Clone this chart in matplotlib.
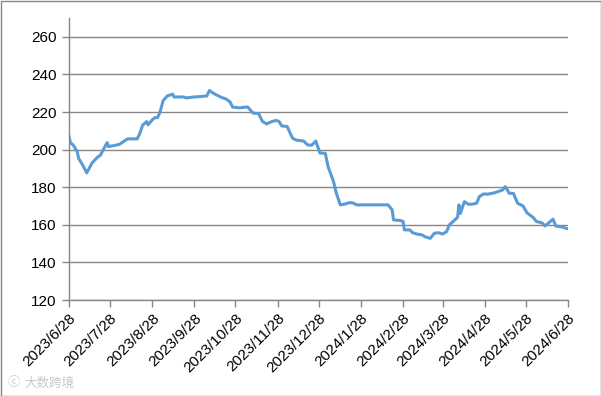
import numpy as np
import pandas as pd
import matplotlib
matplotlib.use('Agg')
import matplotlib.pyplot as plt
import matplotlib.dates as mdates
from matplotlib.patches import Rectangle

plt.rcParams['font.family'] = ['Liberation Sans', 'Noto Sans CJK SC', 'DejaVu Sans']

# days since 2023-06-28 and price
start = pd.Timestamp('2023-06-28')
days = [0, 1, 3, 6, 7, 10, 13, 17, 21, 23, 25, 28, 29, 34, 37, 41, 43, 50, 52, 54,
        57, 58, 61, 63, 65, 67, 69, 72, 76, 77, 84, 86, 92, 96, 101, 103, 107, 112, 115, 118,
        120, 125, 131, 135, 139, 142, 145, 149, 152, 154, 156, 160, 164, 167, 172, 175, 178, 181, 184, 188,
        190, 193, 194, 196, 199, 202, 206, 208, 211, 234, 237, 238, 243, 245, 246, 250, 252, 255, 259, 261,
        265, 268, 271, 274, 277, 279, 283, 285, 286, 287, 288, 290, 293, 296, 299, 301, 304, 307, 312, 318,
        320, 323, 326, 329, 333, 336, 340, 343, 347, 349, 351, 355, 357, 362, 365, 366]
values = [207, 203.7, 202.5, 199, 195.4, 191.8, 187.6, 193, 196, 197, 199.8, 203.7, 201.6, 202.3, 202.8, 204.8, 205.7, 205.7, 208.7, 213,
          214.9, 213.2, 215.8, 217, 217, 220.5, 226, 228.5, 229.5, 228, 228, 227.5, 228, 228.2, 228.5, 231.4, 229.5, 227.7, 227, 225.5,
          222.6, 222.2, 222.7, 219.4, 219.2, 214.9, 213.7, 215, 215.5, 215, 212.6, 212.3, 206, 205, 204.6, 202.5, 202.3, 204.6, 198.2, 198,
          191, 185, 183, 177, 170.6, 171, 171.8, 171.7, 170.6, 170.6, 168, 162.6, 162.3, 161.8, 157.3, 157.3, 155.8, 155.1, 154.6, 153.7,
          152.8, 155.5, 155.8, 155.1, 156.4, 160, 162.6, 164, 170.6, 166, 168, 172.3, 170.9, 171, 171.5, 175, 176.4, 176.3, 177, 178.5,
          180.3, 176.7, 176.7, 171.5, 170, 166.3, 164.2, 161.7, 161, 159.4, 160.5, 163, 159.4, 158.8, 158, 158]
tick_dates = pd.date_range('2023-06-28', '2024-06-28', freq=pd.DateOffset(months=1))
tick_labels = ['%d/%d/%d' % (d.year, d.month, d.day) for d in tick_dates]

dates = start + pd.to_timedelta(days, unit='D')

fig = plt.figure(figsize=(6.01, 3.96), dpi=100)
ax = fig.add_axes([69 / 601, 1 - 300 / 396, 499 / 601, 282 / 396])

ax.plot(dates, values, color='#5B9BD5', lw=2.2, solid_joinstyle='round')

ax.set_xlim(start, tick_dates[-1])
ax.set_ylim(120, 270)
ax.set_yticks(range(120, 261, 20))
ax.set_xticks(tick_dates)
ax.set_xticklabels(tick_labels, rotation=45, ha='right', va='top', rotation_mode='anchor')
ax.yaxis.grid(True, color='#868686', lw=1)
ax.set_axisbelow(True)

for s in ['top', 'right']:
    ax.spines[s].set_visible(False)
for s in ['left', 'bottom']:
    ax.spines[s].set_color('#868686')
    ax.spines[s].set_linewidth(1)
ax.tick_params(axis='both', colors='#868686', labelcolor='black', labelsize=11, length=5, width=1)
ax.tick_params(axis='y', pad=4)
ax.tick_params(axis='x', pad=3)

fig.text(24 / 601, 1 - 383 / 396, '大数跨境', fontsize=9, color='#c8c8c8',
         family=['Noto Sans CJK SC'], va='center')
fig.text(8 / 601, 1 - 383 / 396, 'ⓒ', fontsize=9, color='#c8c8c8', va='center')
fig.patches.append(Rectangle((0.5 / 601, 0.5 / 396), 1 - 1 / 601, 1 - 1 / 396,
                             transform=fig.transFigure, fill=False, ec='#868686', lw=1))

fig.savefig('out.png', dpi=100)
